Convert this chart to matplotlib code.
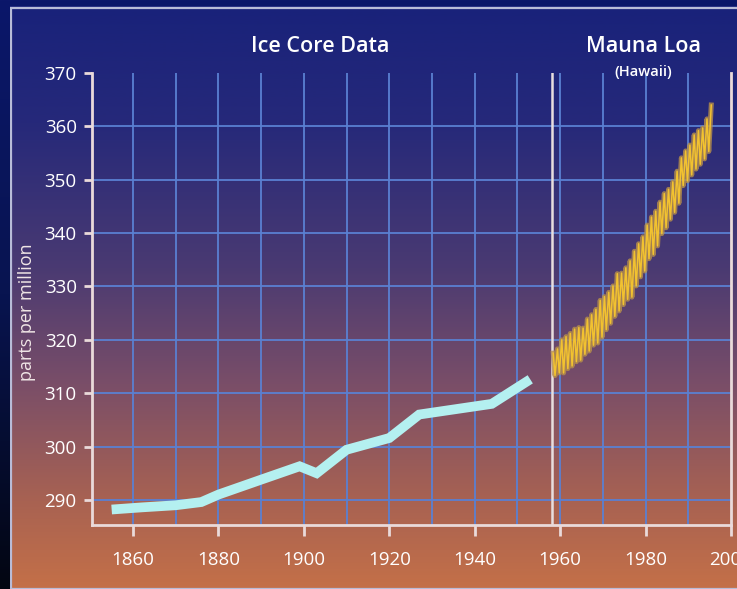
import numpy as np
import matplotlib
matplotlib.use('Agg')
import matplotlib.pyplot as plt
from matplotlib.colors import LinearSegmentedColormap
from matplotlib.patches import Rectangle

plt.rcParams['font.family'] = ['Open Sans', 'DejaVu Sans']

# ice core record
ice_years = [1855, 1862, 1870, 1876, 1880, 1890, 1899, 1903, 1910, 1920, 1927, 1944, 1953]
ice_ppm = [288.2, 288.6, 289.0, 289.6, 291.0, 293.8, 296.3, 295.0, 299.4, 301.6, 306.0, 308.0, 312.6]

# Mauna Loa seasonal highs / lows, one per year
ml_years = list(range(1958, 1996))
ml_high = [317.5, 318.3, 320.0, 320.6, 321.2, 322.0, 322.3, 322.2, 323.9, 324.7,
           325.7, 327.4, 328.1, 328.9, 330.1, 332.4, 332.5, 333.5, 334.8, 336.6,
           338.0, 339.3, 341.5, 343.0, 344.1, 345.8, 347.4, 348.2, 349.6, 351.6,
           354.1, 355.4, 356.5, 358.4, 359.2, 359.7, 361.4, 364.0]
ml_low = [313.3, 313.8, 313.8, 314.6, 315.1, 315.9, 316.2, 317.3, 317.9, 319.0,
          319.4, 320.5, 321.9, 323.1, 324.4, 325.4, 326.6, 327.6, 328.0, 330.1,
          331.8, 332.9, 335.2, 336.0, 337.6, 339.9, 341.0, 342.6, 343.9, 345.6,
          348.9, 349.8, 350.9, 352.0, 352.9, 353.9, 355.3, None]

ml_x, ml_y = [], []
for yr, hi, lo in zip(ml_years, ml_high, ml_low):
    ml_x.append(yr + 0.38); ml_y.append(hi)
    if lo is not None:
        ml_x.append(yr + 0.80); ml_y.append(lo)

x_ticks = [1860, 1880, 1900, 1920, 1940, 1960, 1980, 2000]
y_ticks = [290, 300, 310, 320, 330, 340, 350, 360, 370]

W, H = 737, 589
fig = plt.figure(figsize=(W / 100, H / 100), dpi=100)

grad = np.linspace(0, 1, 256).reshape(-1, 1)

# outer dark background
bg = fig.add_axes([0, 0, 1, 1])
outer = LinearSegmentedColormap.from_list('outer', ['#0b176a', '#081450', '#030612'])
bg.imshow(grad, aspect='auto', cmap=outer, extent=[0, 1, 0, 1])
bg.set_axis_off()

# panel gradient
pl = 10 / W
pt = 6 / H
panel = fig.add_axes([pl, 0, 1 - pl, 1 - pt])
cm = LinearSegmentedColormap.from_list('panel', [
    (0.0, '#19227a'), (0.2, '#26297a'), (0.45, '#4a3a72'),
    (0.65, '#7a4e68'), (0.85, '#a86252'), (1.0, '#c47048')])
panel.imshow(grad, aspect='auto', cmap=cm, extent=[0, 1, 0, 1])
panel.add_patch(Rectangle((0.001, 0.0), 1.2, 0.997, transform=panel.transAxes,
                          fill=False, ec='#b8bcd8', lw=1.6))
panel.set_axis_off()

ax = fig.add_axes([92 / W, (H - 525) / H, (731 - 92) / W, (525 - 73) / H])
ax.set_facecolor('none')
ax.set_xlim(1850.4, 2000)
ax.set_ylim(285.3, 370)

grid_c = '#5a80d2'
for gx in range(1860, 2000, 10):
    ax.axvline(gx, color=grid_c, lw=1.3, zorder=1)
for gy in range(290, 370, 10):
    ax.axhline(gy, color=grid_c, lw=1.3, zorder=1)

ax.axvline(1958, color='#e8dede', lw=1.8, zorder=2)

ax.plot(ice_years, ice_ppm, color='#b4f0f0', lw=7, solid_capstyle='butt',
        solid_joinstyle='miter', zorder=4)

ax.plot(ml_x, ml_y, color='#b8904a', lw=3.6, alpha=0.8, zorder=4)
ax.plot(ml_x, ml_y, color='#f2c230', lw=1.1, zorder=5)

spine_c = '#eadada'
ax.spines['top'].set_visible(False)
for s in ['left', 'bottom', 'right']:
    ax.spines[s].set_color(spine_c)
    ax.spines[s].set_linewidth(2)

ax.set_xticks(x_ticks)
ax.set_yticks(y_ticks)
ax.tick_params(axis='both', colors=spine_c, labelcolor='white', width=2,
               labelsize=13.5)
ax.tick_params(axis='x', length=8, pad=11)
ax.tick_params(axis='y', length=6, pad=5)

ax.set_ylabel('parts per million', color='#f0e6e6', fontsize=13)
ax.yaxis.set_label_coords(-0.088, 0.47)

fig.text(320 / W, 1 - 47 / H, 'Ice Core Data', color='white', fontsize=15.5,
         fontweight='semibold', ha='center', va='center')
fig.text(643 / W, 1 - 47 / H, 'Mauna Loa', color='white', fontsize=15.5,
         fontweight='semibold', ha='center', va='center')
fig.text(643 / W, 1 - 72 / H, '(Hawaii)', color='white', fontsize=10.5,
         fontweight='semibold', ha='center', va='center')

fig.savefig('out.png', dpi=100)
